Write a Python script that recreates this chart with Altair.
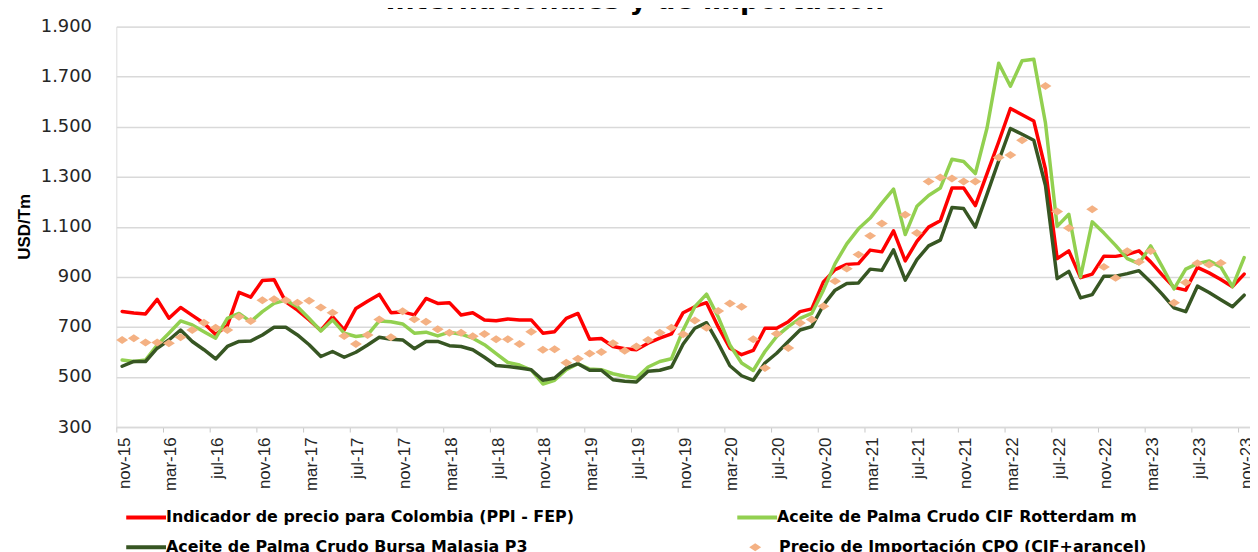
import altair as alt
import pandas as pd

# ---------------- data ----------------
tick_labels = ["nov-15", "mar-16", "jul-16", "nov-16", "mar-17", "jul-17", "nov-17",
               "mar-18", "jul-18", "nov-18", "mar-19", "jul-19", "nov-19", "mar-20",
               "jul-20", "nov-20", "mar-21", "jul-21", "nov-21", "mar-22", "jul-22",
               "nov-22", "mar-23", "jul-23", "nov-23"]

series_names = ["Indicador de precio para Colombia (PPI - FEP)",
                "Aceite de Palma Crudo CIF Rotterdam m",
                "Aceite de Palma Crudo Bursa Malasia P3"]
import_name = "Precio de Importación CPO (CIF+arancel)"
title_text = "Internacionales y de importación"

ppi_fep = [762, 756, 752, 810, 735, 778, 746, 715, 670, 705, 838, 819, 886, 889, 800, 767,
           728, 686, 741, 688, 774, 803, 830, 757, 760, 748, 814, 794, 797, 748, 757, 728,
           725, 732, 728, 728, 675, 681, 734, 754, 651, 654, 622, 613, 609, 635, 655, 672,
           757, 781, 797, 700, 615, 589, 606, 695, 695, 721, 761, 772, 880, 929, 950, 953,
           1007, 1000, 1084, 964, 1042, 1099, 1124, 1255, 1255, 1185, 1313, 1440, 1573, 1548,
           1523, 1330, 973, 1004, 897, 911, 983, 982, 990, 1004, 960, 907, 858, 847, 938,
           916, 890, 861, 911]

cif_rotterdam = [568, 562, 568, 628, 675, 724, 708, 681, 655, 734, 754, 721, 761, 794, 807, 781,
                 734, 684, 728, 675, 662, 668, 724, 721, 712, 675, 679, 664, 679, 671, 655, 629,
                 593, 558, 548, 528, 472, 487, 529, 553, 532, 529, 513, 503, 496, 540, 562, 573,
                 688, 781, 831, 740, 628, 556, 526, 602, 662, 701, 734, 754, 847, 953, 1032, 1092,
                 1135, 1195, 1251, 1069, 1182, 1225, 1255, 1370, 1361, 1313, 1495, 1754, 1662, 1764,
                 1770, 1515, 1102, 1150, 900, 1120, 1075, 1026, 973, 953, 1024, 940, 852, 931, 953,
                 964, 940, 861, 977]

bursa_malasia = [543, 562, 562, 615, 648, 688, 642, 609, 572, 622, 642, 644, 668, 699, 699, 668,
                 629, 582, 602, 579, 599, 628, 659, 651, 648, 613, 642, 642, 625, 622, 609, 579,
                 546, 542, 536, 529, 487, 496, 536, 553, 527, 527, 489, 483, 480, 523, 527, 540,
                 632, 695, 717, 635, 545, 505, 487, 556, 595, 642, 688, 701, 787, 847, 874, 876,
                 931, 926, 1008, 887, 969, 1024, 1047, 1177, 1173, 1099, 1231, 1364, 1493, 1470,
                 1446, 1265, 893, 922, 816, 829, 903, 903, 913, 925, 880, 830, 776, 761, 863,
                 838, 809, 781, 827]

importacion = [648, 655, 638, 638, 635, 659, 688, 717, 697, 688, 741, 724, 807, 811, 807, 797,
               805, 778, 757, 664, 632, 668, 730, 659, 763, 731, 721, 691, 677, 677, 663, 672,
               651, 651, 632, 681, 609, 611, 557, 573, 594, 600, 635, 605, 622, 648, 677, 697,
               671, 726, 697, 764, 794, 781, 651, 536, 673, 616, 716, 730, 783, 883, 933, 989,
               1064, 1113, None, 1148, 1075, 1281, 1297, 1293, 1281, 1281, None, 1377, 1387, 1446,
               None, 1663, 1161, 1095, None, 1170, 940, 896, 1003, 960, 1003, None, 797, 878, 955,
               949, 956, None, None]

y_ticks = [300, 500, 700, 900, 1100, 1300, 1500, 1700, 1900]

# ---------------- tables ----------------
n = len(ppi_fep)
rows = []
for name, vals in zip(series_names, [ppi_fep, cif_rotterdam, bursa_malasia]):
    for i, v in enumerate(vals):
        rows.append({"pos": i + 0.5, "valor": v, "serie": name})
lines_df = pd.DataFrame(rows)

imp_df = pd.DataFrame([{"pos": i + 0.5, "valor": v, "serie_imp": import_name}
                       for i, v in enumerate(importacion) if v is not None])

title_df = pd.DataFrame({"t": [title_text]})
frame_df = pd.DataFrame({"k": [0]})

label_array = "[" + ",".join("'%s'" % s for s in tick_labels) + "]"

x_scale = alt.Scale(domain=[0, n], nice=False, zero=False)
y_scale = alt.Scale(domain=[300, 1900], nice=False, zero=False)

x_axis = alt.Axis(values=list(range(0, n, 4)), labelExpr=label_array + "[round(datum.value/4)]",
                  labelAngle=-90, labelFont="Liberation Sans", labelFontSize=17,
                  labelColor="#262626", labelPadding=5, labelOffset=8,
                  tickSize=5, tickColor="#c8c8c8", tickWidth=1,
                  domainColor="#d9d9d9", domainWidth=1.5, grid=False, title=None)

y_axis = alt.Axis(values=y_ticks, labelExpr="replace(format(datum.value, ','), ',', '.')",
                  labelFont="DejaVu Sans", labelFontSize=18, labelColor="#262626",
                  labelPadding=25, ticks=False, tickSize=0, domain=False,
                  grid=True, gridColor="#d9d9d9", gridWidth=1.5,
                  title="USD/Tm", titleFont="Liberation Sans", titleFontSize=17,
                  titleFontWeight="bold", titleColor="#000000", titleAngle=270,
                  titleAlign="center", titleBaseline="middle", titleX=-92, titleY=201)

legend_font = "DejaVu Sans"
line_symbol = "M-3,0H3"
# legend entries are laid out column by column
legend_order = [series_names[0], series_names[2], series_names[1]]

lines = alt.Chart(lines_df).mark_line(strokeWidth=3.5, strokeJoin="round", strokeCap="round").encode(
    x=alt.X("pos:Q", scale=x_scale, axis=x_axis),
    y=alt.Y("valor:Q", scale=y_scale, axis=y_axis),
    color=alt.Color("serie:N",
                    scale=alt.Scale(domain=series_names, range=["#ff0000", "#92d050", "#375623"]),
                    legend=alt.Legend(orient="none", legendX=8, legendY=485, columns=2,
                                      values=legend_order,
                                      columnPadding=154, rowPadding=13, padding=0,
                                      symbolType=line_symbol, symbolSize=178, symbolStrokeWidth=4,
                                      symbolOffset=13,
                                      labelFont=legend_font, labelFontSize=16, labelFontWeight="bold",
                                      labelColor="#000000", labelOffset=11, labelLimit=700,
                                      title=None)),
)

diamond = "M-1.2,0L0,-0.8L1.2,0L0,0.8Z"
points = alt.Chart(imp_df).mark_point(filled=True, size=100, opacity=1, color="#f4b183").encode(
    x=alt.X("pos:Q", scale=x_scale),
    y=alt.Y("valor:Q", scale=y_scale),
    shape=alt.Shape("serie_imp:N", scale=alt.Scale(domain=[import_name], range=[diamond]),
                    legend=alt.Legend(orient="none", legendX=635, legendY=516, padding=0,
                                      symbolSize=100, symbolFillColor="#f4b183", symbolStrokeWidth=0,
                                      labelFont=legend_font, labelFontSize=16, labelFontWeight="bold",
                                      labelColor="#000000", labelOffset=16, labelLimit=700,
                                      title=None)),
)

title = alt.Chart(title_df).mark_text(font="DejaVu Sans", fontSize=27, fontWeight="bold",
                                      align="center", baseline="alphabetic", color="#000000").encode(
    x=alt.value(522), y=alt.value(-18), text="t:N")

# light chart-area border on the left, as in the original
frame = alt.Chart(frame_df).mark_rule(color="#d9d9d9", strokeWidth=1.5).encode(
    x=alt.value(-111), y=alt.value(-25), y2=alt.value(527))

chart = alt.layer(frame, lines, points, title).resolve_legend(color="independent", shape="independent").properties(
    width=1141, height=403,
    padding={"left": 109, "top": 17, "right": 0, "bottom": 124},
    autosize=alt.AutoSizeParams(type="none"),
).configure_view(stroke=None).configure(background="#ffffff")

chart.save("out.html", embed_options={"renderer": "svg", "actions": False})
